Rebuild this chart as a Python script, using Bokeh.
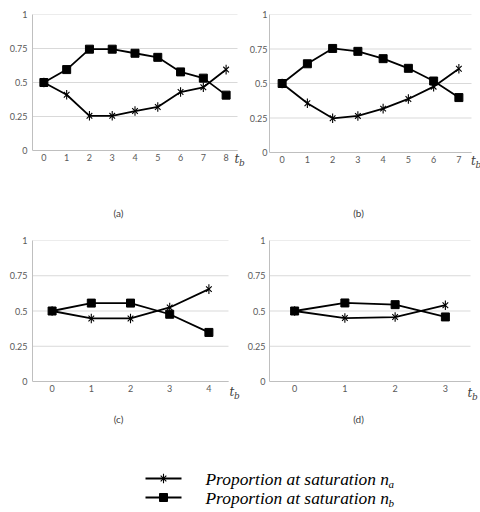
import math
from bokeh.plotting import figure
from bokeh.layouts import row, column
from bokeh.models import Range1d, FixedTicker
from bokeh.embed import file_html
from bokeh.resources import INLINE
from bokeh.core.properties import value

# ---------------- data ----------------
tb_a = [0, 1, 2, 3, 4, 5, 6, 7, 8]
na_a = [0.50, 0.41, 0.255, 0.255, 0.29, 0.32, 0.43, 0.465, 0.595]
nb_a = [0.50, 0.595, 0.745, 0.745, 0.715, 0.685, 0.578, 0.532, 0.407]

tb_b = [0, 1, 2, 3, 4, 5, 6, 7]
na_b = [0.50, 0.357, 0.248, 0.265, 0.318, 0.388, 0.477, 0.607]
nb_b = [0.50, 0.643, 0.754, 0.733, 0.68, 0.61, 0.518, 0.398]

tb_c = [0, 1, 2, 3, 4]
na_c = [0.50, 0.447, 0.447, 0.525, 0.655]
nb_c = [0.50, 0.556, 0.556, 0.477, 0.348]

tb_d = [0, 1, 2, 3]
na_d = [0.50, 0.45, 0.457, 0.541]
nb_d = [0.50, 0.557, 0.545, 0.458]

y_ticks = [0, 0.25, 0.5, 0.75, 1]
y_tick_labels = ["0", "0.25", "0.5", "0.75", "1"]
panel_labels = ["(a)", "(b)", "(c)", "(d)"]
axis_name = ["t", "b"]
legend_text = ["Proportion at saturation n", "Proportion at saturation n"]
legend_sub = ["a", "b"]

GRID = "#d9d9d9"
AXIS = "#bfbfbf"
TICK_TXT = "#595959"
LABEL_TXT = "#404040"


def star(p, xs, ys, size):
    p.scatter(xs, ys, marker="x", size=size, line_color="black", line_width=1.1)
    p.scatter(xs, ys, marker="dash", size=size * 1.2, angle=math.pi / 2,
              line_color="black", line_width=1.1)


def make_panel(tb, na, nb, geom, tb_pos, standoff):
    """geom: page pixels (x0 of figure, frame left, frame right incl. margin,
    px per category, frame top, y of value 0, px per unit y, frame bottom, border bottom)"""
    ox, fl, fr, ppx, ft, y0px, ppy, fbm, bb = geom
    n = len(tb)
    xmin = -0.5
    xmax = xmin + (fr - fl) / ppx
    ymax = 1.0
    ymin = ymax - (fbm - ft) / ppy
    p = figure(frame_width=fr - fl, frame_height=fbm - ft,
               x_range=Range1d(xmin, xmax), y_range=Range1d(ymin, ymax),
               min_border_left=fl - ox, min_border_right=0,
               min_border_top=ft - (0 if ft < 200 else 230), min_border_bottom=bb,
               output_backend="svg", toolbar_location=None)
    p.title.visible = False
    p.outline_line_color = None
    p.background_fill_color = "white"
    p.border_fill_color = "white"
    p.xgrid.visible = False
    p.ygrid.visible = False

    # horizontal gridlines limited to the category area
    p.segment(x0=[xmin] * len(y_ticks), y0=y_ticks, x1=[n - 0.5] * len(y_ticks),
              y1=y_ticks, line_color=GRID, line_width=1)

    xa = p.xaxis[0]
    xa.fixed_location = 0
    xa.bounds = (xmin, n - 0.5)
    xa.ticker = FixedTicker(ticks=tb)
    xa.axis_line_color = AXIS
    xa.major_tick_line_color = None
    xa.minor_tick_line_color = None
    xa.major_tick_out = 0
    xa.major_tick_in = 0
    xa.minor_tick_out = 0
    xa.major_label_text_font = "Lato"
    xa.major_label_text_font_size = "9px"
    xa.major_label_text_color = TICK_TXT
    xa.major_label_standoff = 3

    ya = p.yaxis[0]
    ya.bounds = (0, 1)
    ya.ticker = FixedTicker(ticks=y_ticks)
    ya.major_label_overrides = {float(t): s for t, s in zip(y_ticks, y_tick_labels)}
    ya.axis_line_color = AXIS
    ya.major_tick_line_color = None
    ya.minor_tick_line_color = None
    ya.major_tick_out = 0
    ya.major_tick_in = 0
    ya.minor_tick_out = 0
    ya.major_label_text_font = "Lato"
    ya.major_label_text_font_size = "9px"
    ya.major_label_text_color = TICK_TXT
    ya.major_label_standoff = standoff

    p.line(tb, nb, line_color="black", line_width=1.8)
    p.scatter(tb, nb, marker="square", size=8, fill_color="black", line_color="black")
    p.line(tb, na, line_color="black", line_width=1.8)
    star(p, tb, na, 8)

    def to_data(px, py):
        return xmin + (px - fl) / ppx, (y0px - py) / ppy

    tx, ty = to_data(*tb_pos)
    sx, sy = to_data(tb_pos[0] + 4.5, tb_pos[1] + 4)
    p.text([tx], [ty], text=[axis_name[0]], text_font=value("DejaVu Serif"),
           text_font_style="italic", text_font_size="12px", text_baseline="middle",
           text_align="left", text_color=LABEL_TXT)
    p.text([sx], [sy], text=[axis_name[1]], text_font=value("DejaVu Serif"),
           text_font_style="italic", text_font_size="9px", text_baseline="middle",
           text_align="left", text_color=LABEL_TXT)
    return p


def blank(width, height):
    p = figure(width=width, height=height, x_range=Range1d(0, width),
               y_range=Range1d(height, 0),
               min_border=0, min_border_left=0, min_border_right=0,
               min_border_top=0, min_border_bottom=0,
               x_axis_type=None, y_axis_type=None,
               output_backend="svg", toolbar_location=None)
    p.outline_line_color = None
    p.xgrid.visible = False
    p.ygrid.visible = False
    p.background_fill_color = "white"
    p.border_fill_color = "white"
    return p


def add_labels(p, xs, y, labels):
    p.text(xs, [y] * len(xs), text=labels, text_font=value("Lato"),
           text_font_size="10px", text_baseline="middle", text_align="center",
           text_color=LABEL_TXT)


# row 1 (page y 0..190)
pa = make_panel(tb_a, na_a, nb_a, (0, 32, 246, 205 / 9, 14, 150, 136, 170, 20), (234, 158), 5)
pb = make_panel(tb_b, na_b, nb_b, (246, 269, 480, 202 / 8, 12, 150, 138, 170, 20), (470.5, 158), 2)
# strip with (a) (b)   (page y 190..230)
s1 = blank(480, 40)
add_labels(s1, [118, 358], 22, panel_labels[0:2])
# row 2 (page y 230..413)
pc = make_panel(tb_c, na_c, nb_c, (0, 32, 244, 196 / 5, 240, 381, 141, 399, 14), (229, 391), 5)
pd = make_panel(tb_d, na_d, nb_d, (244, 269, 480, 201 / 4, 239, 380, 141, 399, 14), (467, 391), 4)

# ---------------- (c) (d) and legend (page y 413..512) ----------------
pl = blank(480, 99)
add_labels(pl, [118, 358], 5.5, panel_labels[2:4])
leg_y = [65, 84]
for i in range(2):
    yy = leg_y[i]
    pl.line([145, 181], [yy, yy], line_color="black", line_width=2.2)
    if i == 1:
        pl.scatter([163], [yy], marker="square", size=8, fill_color="black", line_color="black")
    else:
        star(pl, [163], [yy], 8)
    pl.text([205], [yy], text=[legend_text[i]], text_font=value("Liberation Serif"),
            text_font_style="italic", text_font_size="17.4px", text_baseline="middle",
            text_align="left", text_color="black")
    pl.text([388], [yy + 5], text=[legend_sub[i]], text_font=value("Liberation Serif"),
            text_font_style="italic", text_font_size="11px", text_baseline="middle",
            text_align="left", text_color="black")

layout = column(row(pa, pb), s1, row(pc, pd), pl)

open("out.html", "w").write(file_html(layout, INLINE))
